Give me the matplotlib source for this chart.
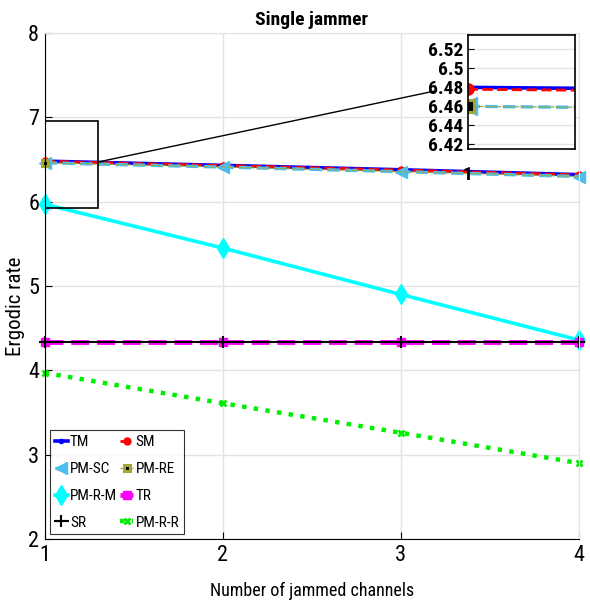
import matplotlib
matplotlib.use('Agg')
from matplotlib import pyplot as plt
from matplotlib.patches import Rectangle, ConnectionPatch
from matplotlib import font_manager

names = set(f.name for f in font_manager.fontManager.ttflist)
narrow = [n for n in ['Liberation Sans Narrow', 'Arial Narrow', 'Roboto Condensed',
                      'Archivo Narrow', 'PT Sans Narrow'] if n in names]
plt.rcParams['font.family'] = narrow[:1] + ['DejaVu Sans']

channels = [1, 2, 3, 4]
tm = [6.480, 6.430, 6.378, 6.320]
sm = [6.478, 6.428, 6.375, 6.317]
pm_sc = [6.460, 6.410, 6.355, 6.298]
pm_re = [6.460, 6.410, 6.355, 6.298]
pm_r_m = [5.97, 5.45, 4.90, 4.36]
tr = [4.34, 4.34, 4.34, 4.34]
sr = [4.34, 4.34, 4.34, 4.34]
pm_r_r = [3.97, 3.61, 3.26, 2.90]

olive = '#a3a833'
lightblue = '#4dbeee'


def draw(ax, ms=1.0, clip=True):
    h = {}
    h['TM'], = ax.plot(channels, tm, '-', color='blue', lw=2.6, marker='.', ms=6 * ms)
    h['SM'], = ax.plot(channels, sm, '--', color='red', lw=2, marker='o', ms=5 * ms)
    h['PM-SC'], = ax.plot(channels, pm_sc, '--', color=lightblue, lw=2.4, marker='<', ms=8 * ms)
    h['PM-RE'], = ax.plot(channels, pm_re, '--', color=olive, lw=0.8, marker='s', markevery=[0],
                          ms=5 * ms, mfc='black', mec=olive, mew=2.2)
    h['PM-R-M'], = ax.plot(channels, pm_r_m, '-', color='cyan', lw=2.6, marker='d', ms=10 * ms)
    h['TR'], = ax.plot(channels, tr, '--', color='magenta', lw=3.5, marker='s', ms=6 * ms)
    h['SR'], = ax.plot(channels, sr, '-', color='black', lw=1.5, marker='+', ms=9 * ms, mew=1.5)
    h['PM-R-R'], = ax.plot(channels, pm_r_r, ':', color='#00ee00', lw=3.2, marker='x', ms=5 * ms, mew=2)
    for l in h.values():
        l.set_clip_on(clip)
    return h


fig = plt.figure(figsize=(5.9, 6.06), dpi=100)
ax = fig.add_axes([0.0758, 0.1106, 0.905, 0.835])
h = draw(ax, clip=False)
ax.set_xlim(1, 4)
ax.set_ylim(2, 8)
ax.set_xticks([1, 2, 3, 4])
ax.set_yticks([2, 3, 4, 5, 6, 7, 8])
ax.grid(True, color='#e3e3e3', lw=1)
ax.set_axisbelow(True)
ax.tick_params(direction='in', labelsize=16, length=5, top=False, right=False, pad=4)
for s in ['top', 'right']:
    ax.spines[s].set_color('#e3e3e3')
ax.set_title('Single jammer', fontsize=14, fontweight='bold', pad=6)
ax.set_xlabel('Number of jammed channels', fontsize=13, labelpad=12)
ax.set_ylabel('Ergodic rate', fontsize=15)
ax.yaxis.set_label_coords(-0.036, 0.46)

order = ['TM', 'PM-SC', 'PM-R-M', 'SR', 'SM', 'PM-RE', 'TR', 'PM-R-R']
leg = ax.legend([h[k] for k in order], order, ncol=2, loc='lower left',
                bbox_to_anchor=(0.01, 0.009), fontsize=11, handlelength=0.85,
                handletextpad=0.15, columnspacing=0.2, labelspacing=0.85,
                borderpad=0.3, frameon=True, fancybox=False, edgecolor='black',
                borderaxespad=0)
leg.get_frame().set_linewidth(0.8)

ax.add_patch(Rectangle((1, 5.93), 0.3, 1.03, fill=False, edgecolor='black', lw=1.2, zorder=5))

axins = fig.add_axes([0.7927, 0.754, 0.182, 0.188])
draw(axins, ms=1.6)
axins.set_xlim(1, 1.02)
axins.set_ylim(6.415, 6.535)
axins.set_xticks([1])
axins.set_yticks([6.42, 6.44, 6.46, 6.48, 6.5, 6.52])
axins.set_yticklabels(['6.42', '6.44', '6.46', '6.48', '6.5', '6.52'])
axins.grid(True, axis='y', color='#e3e3e3', lw=1)
axins.set_axisbelow(True)
axins.tick_params(axis='y', direction='in', labelsize=14, length=4, pad=3)
axins.tick_params(axis='x', direction='in', labelsize=14, length=4, pad=12)
for lab in axins.get_yticklabels() + axins.get_xticklabels():
    lab.set_fontweight('bold')
for s in axins.spines.values():
    s.set_linewidth(1.2)

con = ConnectionPatch(xyA=(1.3, 6.47), coordsA=ax.transData,
                      xyB=(-0.305, 0.51), coordsB=axins.transAxes,
                      color='black', lw=1.0)
fig.add_artist(con)

fig.savefig('out.png', dpi=100)
